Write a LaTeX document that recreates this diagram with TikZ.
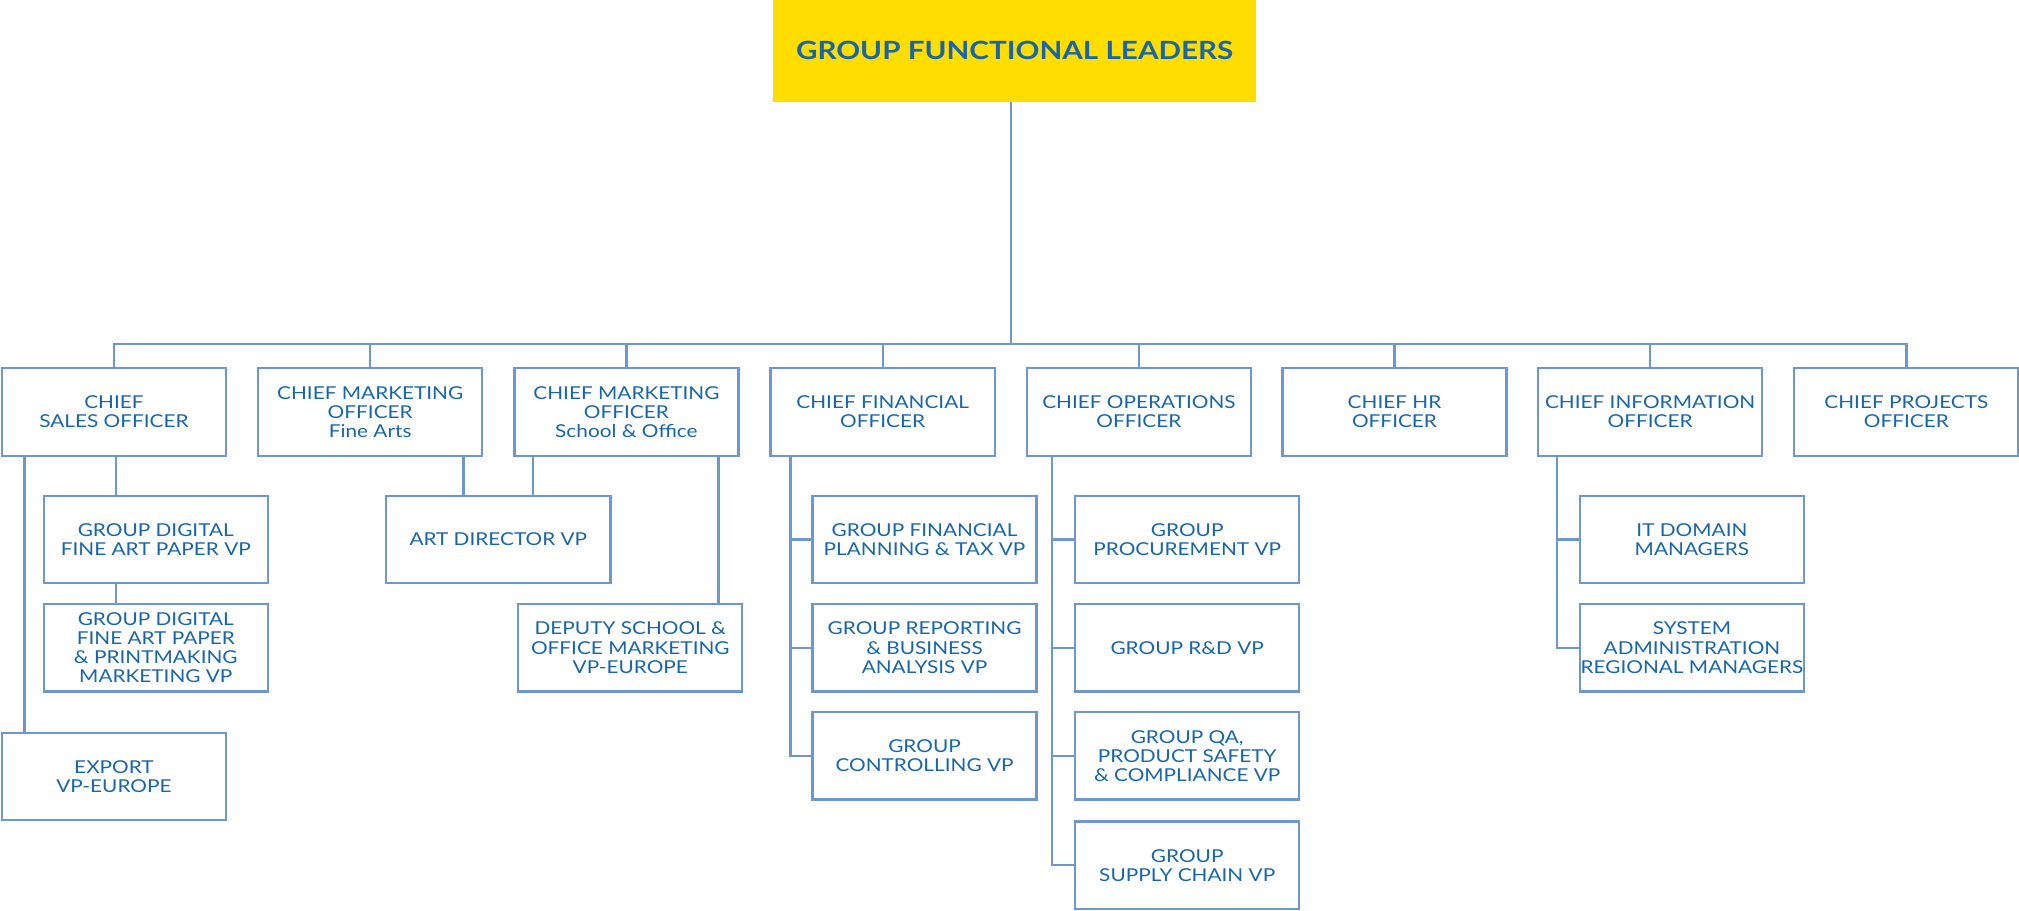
\documentclass[tikz,border=0pt]{standalone}
\usepackage{fontspec}
\setmainfont{Lato}[FakeStretch=1.17]
\newfontfamily\titlefont{Lato}[FakeStretch=1.18]
\definecolor{lineblue}{HTML}{6E97CB}
\definecolor{textblue}{HTML}{1766AC}
\definecolor{gold}{HTML}{FFDD00}
\tikzset{
  box/.style={draw=lineblue, line width=1.8pt, minimum width=174pt, minimum height=68pt,
    inner sep=0pt, align=center, text=textblue, font=\fontsize{13.8}{14.8}\selectfont},
  conn/.style={draw=lineblue, line width=1.8pt},
  titlebox/.style={fill=gold, minimum width=375pt, minimum height=79pt, inner sep=0pt,
    text=textblue, font=\titlefont\fontsize{19.5}{22}\selectfont\bfseries}
}
\begin{document}
\begin{tikzpicture}[x=1pt,y=-1pt]
\useasboundingbox (0,0) rectangle (1568,707);
\node[titlebox] (top) at (788,39.5) {GROUP FUNCTIONAL LEADERS};
\coordinate (bus) at (785,267);
% level 1
\node[box] (sales) at (88.5,320) {CHIEF\\SALES OFFICER};
\node[box] (cmo1) at (287.5,320) {CHIEF MARKETING\\OFFICER\\Fine Arts};
\node[box] (cmo2) at (486.5,320) {CHIEF MARKETING\\OFFICER\\School \& Office};
\node[box] (cfo) at (685.5,320) {CHIEF FINANCIAL\\OFFICER};
\node[box] (coo) at (884.5,320) {CHIEF OPERATIONS\\OFFICER};
\node[box] (hr) at (1083,320) {CHIEF HR\\OFFICER};
\node[box] (cio) at (1281.5,320) {CHIEF INFORMATION\\OFFICER};
\node[box] (cpo) at (1480.5,320) {CHIEF PROJECTS\\OFFICER};
% sales children
\node[box] (gd1) at (121,419) {GROUP DIGITAL\\FINE ART PAPER VP};
\node[box] (gd2) at (121,503) {GROUP DIGITAL\\FINE ART PAPER\\\& PRINTMAKING\\MARKETING VP};
\node[box] (exp) at (88.5,603) {EXPORT\\VP-EUROPE};
% marketing children
\node[box] (art) at (387,419) {ART DIRECTOR VP};
\node[box] (dep) at (489.5,503) {DEPUTY SCHOOL \&\\OFFICE MARKETING\\VP-EUROPE};
% cfo children
\node[box] (fc1) at (718,419) {GROUP FINANCIAL\\PLANNING \& TAX VP};
\node[box] (fc2) at (718,503) {GROUP REPORTING\\\& BUSINESS\\ANALYSIS VP};
\node[box] (fc3) at (718,587) {GROUP\\CONTROLLING VP};
% coo children
\node[box] (oc1) at (922,419) {GROUP\\PROCUREMENT VP};
\node[box] (oc2) at (922,503) {GROUP R\&D VP};
\node[box] (oc3) at (922,587) {GROUP QA,\\PRODUCT SAFETY\\\& COMPLIANCE VP};
\node[box] (oc4) at (922,672) {GROUP\\SUPPLY CHAIN VP};
% cio children
\node[box] (ic1) at (1314,419) {IT DOMAIN\\MANAGERS};
\node[box] (ic2) at (1314,503) {SYSTEM\\ADMINISTRATION\\REGIONAL MANAGERS};
% connectors top
\draw[conn] (top.south -| bus) -- (bus);
\draw[conn] (sales.north) -- (sales.north |- bus) -- (cpo.north |- bus) -- (cpo.north);
\foreach \n in {cmo1,cmo2,cfo,coo,hr,cio}{
  \draw[conn] (\n.north) -- (\n.north |- bus);
}
% sales
\draw[conn] ([xshift=-69.5pt]sales.south) -- ([xshift=-69.5pt]sales.south |- exp.north);
\draw[conn] ([xshift=1.5pt]sales.south) -- ([xshift=1.5pt]sales.south |- gd1.north);
\draw[conn] ([xshift=-31pt]gd1.south) -- ([xshift=-31pt]gd2.north);
% marketing
\draw[conn] ([xshift=72.5pt]cmo1.south) -- ([xshift=72.5pt]cmo1.south |- art.north);
\draw[conn] ([xshift=-72.5pt]cmo2.south) -- ([xshift=-72.5pt]cmo2.south |- art.north);
\draw[conn] ([xshift=71.5pt]cmo2.south) -- ([xshift=71.5pt]cmo2.south |- dep.north);
% cfo
\coordinate (cfoL) at ([xshift=-71.5pt]cfo.south);
\draw[conn] (cfoL) |- (fc3.west);
\draw[conn] (fc1.west) -- (fc1.west -| cfoL);
\draw[conn] (fc2.west) -- (fc2.west -| cfoL);
% coo
\coordinate (cooL) at ([xshift=-67.5pt]coo.south);
\draw[conn] (cooL) |- (oc4.west);
\draw[conn] (oc1.west) -- (oc1.west -| cooL);
\draw[conn] (oc2.west) -- (oc2.west -| cooL);
\draw[conn] (oc3.west) -- (oc3.west -| cooL);
% cio
\coordinate (cioL) at ([xshift=-72.5pt]cio.south);
\draw[conn] (cioL) |- (ic2.west);
\draw[conn] (ic1.west) -- (ic1.west -| cioL);
\end{tikzpicture}
\end{document}
